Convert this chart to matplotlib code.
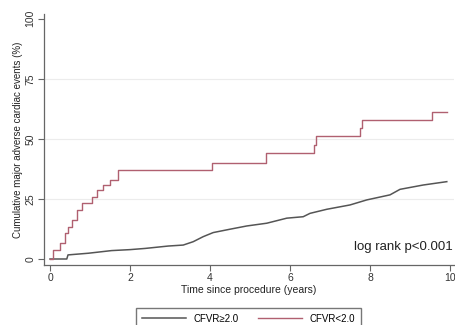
import numpy as np
import matplotlib
matplotlib.use("Agg")
import matplotlib.pyplot as plt

plt.rcParams['font.family'] = ['Liberation Sans', 'DejaVu Sans']

# CFVR<2.0 (red) step times (years) and cumulative MACE (%)
red_t = [0, 0.08, 0.25, 0.375, 0.46, 0.54, 0.67, 0.79, 1.04, 1.17, 1.33, 1.5, 1.71,
         4.05, 5.39, 6.6, 6.65, 7.75, 7.79, 9.54, 9.92]
red_y = [0, 3.75, 6.5, 10.7, 13.5, 16.2, 20.4, 23.2, 26.0, 28.7, 30.8, 32.9, 37.1,
         40.1, 44.0, 47.5, 51.0, 54.6, 58.0, 61.0, 61.0]

# CFVR>=2.0 (gray) - many small steps, traced as points along the curve
gray_t = [0, 0.42, 0.45, 0.96, 1.54, 2.0, 2.38, 2.96, 3.33, 3.58, 3.83, 4.08, 4.5, 4.92,
          5.42, 5.92, 6.33, 6.5, 6.92, 7.5, 7.92, 8.5, 8.75, 9.33, 9.92]
gray_y = [0, 0, 1.7, 2.4, 3.5, 3.9, 4.4, 5.4, 5.8, 7.2, 9.3, 11.0, 12.4, 13.75,
          14.9, 17.0, 17.6, 19.0, 20.7, 22.5, 24.6, 26.7, 29.0, 30.8, 32.2]

xticks = [0, 2, 4, 6, 8, 10]
yticks = [0, 25, 50, 75, 100]

fig = plt.figure(figsize=(4.55, 3.25), dpi=100)
ax = fig.add_axes([44/455, 1 - 265/325, 410/455, 251/325])

for yv in yticks[1:-1]:
    ax.axhline(yv, color='#ececec', lw=0.8, zorder=0)

l1, = ax.plot(gray_t, gray_y, color='#555555', lw=1.1)
l2, = ax.plot(red_t, red_y, drawstyle='steps-post', color='#b06070', lw=1.0)

ax.set_xlim(-0.15, 10.1)
ax.set_ylim(-2.5, 102)
ax.set_xticks(xticks)
ax.set_yticks(yticks)
ax.set_yticklabels([str(v) for v in yticks], rotation=90, va='center')
ax.tick_params(labelsize=7.5, length=4, color='#666666', labelcolor='#333333', pad=2)
for s in ['top', 'right']:
    ax.spines[s].set_visible(False)
for s in ['left', 'bottom']:
    ax.spines[s].set_color('#666666')
    ax.spines[s].set_linewidth(0.9)

ax.set_xlabel('Time since procedure (years)', fontsize=7.5, color='#222222', labelpad=1)
ax.set_ylabel('Cumulative major adverse cardiac events (%)', fontsize=7, color='#222222', labelpad=2)

ax.text(10.07, 5.1, 'log rank p<0.001', ha='right', va='center', fontsize=9.5, color='#222222')

fig.legend([l1, l2], ['CFVR\u22652.0', 'CFVR<2.0'], loc='upper center',
           bbox_to_anchor=(248.5/455, 1 - 303/325), ncol=2, fontsize=7,
           frameon=True, fancybox=False, edgecolor='#555555', handlelength=4.5,
           columnspacing=2.0, borderpad=0.6)

fig.savefig('out.png', dpi=100)
